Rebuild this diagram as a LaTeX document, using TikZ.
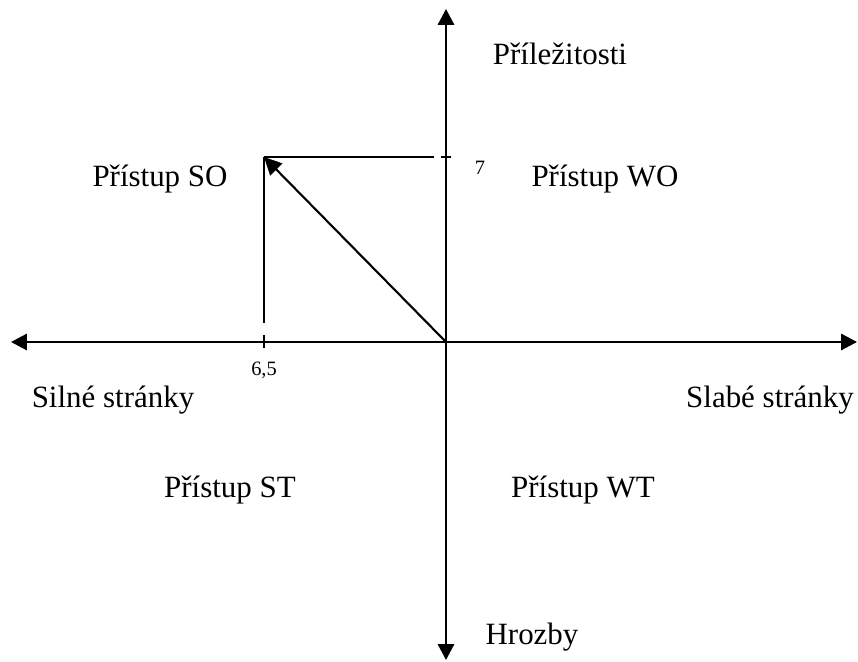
\documentclass[tikz,border=0pt]{standalone}
\usepackage{fontspec}
\setmainfont{Liberation Serif}
\usetikzlibrary{arrows.meta}
\tikzset{
  every picture/.style={x=0.01cm, y=-0.01cm, line width=0.6pt},
  axis/.style={{Triangle[length=4.5pt, width=4.6pt]}-{Triangle[length=4.5pt, width=4.6pt]}},
  guide/.style={line width=0.45pt},
  vec/.style={-{Triangle[length=5pt, width=4.8pt]}},
  lbl/.style={anchor=base, inner sep=0pt, font=\fontsize{8.8}{10}\selectfont},
  num/.style={anchor=base, inner sep=0pt, font=\fontsize{5.8}{7}\selectfont},
}
\begin{document}
\begin{tikzpicture}
  \useasboundingbox (0,0) rectangle (858,662);

  % axes
  \coordinate (o) at (446,342);
  \coordinate (top) at (446,9);
  \coordinate (bot) at (446,660);
  \coordinate (left) at (11,342);
  \coordinate (right) at (857,342);
  \draw[axis] (bot) -- (top);
  \draw[axis] (left) -- (right);

  % strategy point
  \coordinate (p) at (264,157);
  \coordinate (py) at (434,157);
  \coordinate (px) at (264,323);
  \draw[guide] (p) -- (py);
  \draw[guide] (p) -- (px);
  \draw[guide] (441,157) -- (451,157);
  \draw[guide] (264,335) -- (264,348);
  \draw[vec] (o) -- (p);

  % labels
  \node[lbl] (opp) at (560,65) {Příležitosti};
  \node[lbl] (thr) at (532,645) {Hrozby};
  \node[lbl] (str) at (113,408) {Silné stránky};
  \node[lbl] (wea) at (770,408) {Slabé stránky};
  \node[lbl] (so) at (160,187) {Přístup SO};
  \node[lbl] (wo) at (605,187) {Přístup WO};
  \node[lbl] (st) at (230,498) {Přístup ST};
  \node[lbl] (wt) at (583,498) {Přístup WT};
  \node[num] (nx) at (264,376) {6,5};
  \node[num] (ny) at (480,175) {7};
\end{tikzpicture}
\end{document}
